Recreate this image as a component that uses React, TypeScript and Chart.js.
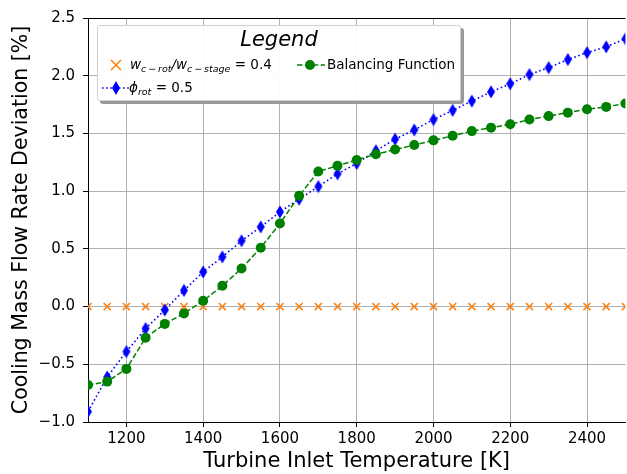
import React, { useEffect, useRef } from "react";
import { Chart, registerables } from "chart.js";

Chart.register(...registerables);

const temperatures = [1100, 1150, 1200, 1250, 1300, 1350, 1400, 1450, 1500, 1550, 1600, 1650, 1700, 1750, 1800, 1850, 1900, 1950, 2000, 2050, 2100, 2150, 2200, 2250, 2300, 2350, 2400, 2450, 2500];
const ratioSeries = [0, 0, 0, 0, 0, 0, 0, 0, 0, 0, 0, 0, 0, 0, 0, 0, 0, 0, 0, 0, 0, 0, 0, 0, 0, 0, 0, 0, 0];
const phiSeries = [-0.91, -0.61, -0.39, -0.19, -0.03, 0.14, 0.30, 0.43, 0.57, 0.69, 0.82, 0.93, 1.04, 1.15, 1.24, 1.35, 1.45, 1.53, 1.62, 1.70, 1.78, 1.86, 1.93, 2.01, 2.07, 2.14, 2.20, 2.25, 2.32];
const balancingSeries = [-0.68, -0.65, -0.54, -0.27, -0.15, -0.06, 0.05, 0.18, 0.33, 0.51, 0.72, 0.96, 1.17, 1.22, 1.27, 1.32, 1.36, 1.40, 1.44, 1.48, 1.52, 1.55, 1.58, 1.62, 1.65, 1.68, 1.71, 1.73, 1.76];
const xTicks = [1200, 1400, 1600, 1800, 2000, 2200, 2400];
const yTicks = [-1.0, -0.5, 0.0, 0.5, 1.0, 1.5, 2.0, 2.5];

const FONT = "'DejaVu Sans', sans-serif";

function makeDiamond(): HTMLCanvasElement {
  const c = document.createElement("canvas");
  c.width = 10;
  c.height = 14;
  const ctx = c.getContext("2d")!;
  ctx.fillStyle = "#0000ff";
  ctx.beginPath();
  ctx.moveTo(5, 0.5);
  ctx.lineTo(9, 7);
  ctx.lineTo(5, 13.5);
  ctx.lineTo(1, 7);
  ctx.closePath();
  ctx.fill();
  return c;
}

const topSpine = {
  id: "topSpine",
  afterDraw(chart: any) {
    const { ctx, chartArea } = chart;
    ctx.save();
    ctx.strokeStyle = "#000";
    ctx.lineWidth = 1;
    ctx.beginPath();
    ctx.moveTo(chartArea.left, chartArea.top + 0.5);
    ctx.lineTo(chartArea.right, chartArea.top + 0.5);
    ctx.stroke();
    ctx.restore();
  },
};

export default function App() {
  const ref = useRef<HTMLCanvasElement>(null);
  useEffect(() => {
    const diamond = makeDiamond();
    const chart = new Chart(ref.current!, {
      type: "line",
      data: {
        datasets: [
          {
            label: "ratio",
            data: temperatures.map((t, i) => ({ x: t, y: ratioSeries[i] })),
            showLine: false,
            pointStyle: "crossRot",
            pointRadius: 5,
            pointBorderWidth: 1.5,
            borderColor: "#ff7f0e",
            backgroundColor: "#ff7f0e",
            clip: 0,
            order: 3,
          },
          {
            label: "phi",
            data: temperatures.map((t, i) => ({ x: t, y: phiSeries[i] })),
            borderColor: "#0000ff",
            backgroundColor: "#0000ff",
            borderWidth: 1.6,
            borderDash: [1.6, 2.6],
            pointStyle: diamond as any,
            pointRadius: 5,
            clip: 0,
            order: 2,
          },
          {
            label: "Balancing Function",
            data: temperatures.map((t, i) => ({ x: t, y: balancingSeries[i] })),
            borderColor: "#008000",
            backgroundColor: "#008000",
            borderWidth: 1.5,
            borderDash: [5.5, 2.4],
            pointStyle: "circle",
            pointRadius: 5,
            pointBorderWidth: 0,
            clip: 0,
            order: 1,
          },
        ],
      },
      options: {
        responsive: false,
        animation: false,
        layout: { padding: { top: 18, right: 4, left: 0, bottom: 0 } },
        plugins: { legend: { display: false }, tooltip: { enabled: false } },
        scales: {
          x: {
            type: "linear",
            min: 1100,
            max: 2500,
            afterBuildTicks: (s: any) => {
              s.ticks = xTicks.map((v) => ({ value: v }));
            },
            afterFit: (s: any) => {
              s.height = 52;
            },
            grid: { color: "#b0b0b0", lineWidth: 1, tickColor: "#000", tickLength: 5 },
            border: { color: "#000", width: 1 },
            ticks: {
              color: "#000",
              font: { family: FONT, size: 15 },
              padding: 3,
              maxRotation: 0,
              callback: (v: any) => String(v),
            },
            title: { display: true, text: "Turbine Inlet Temperature [K]", color: "#000", font: { family: FONT, size: 21 }, padding: { top: 0, bottom: 0 } },
          },
          y: {
            type: "linear",
            min: -1.0,
            max: 2.5,
            afterBuildTicks: (s: any) => {
              s.ticks = yTicks.map((v) => ({ value: v }));
            },
            afterFit: (s: any) => {
              s.width = 88;
            },
            grid: { color: "#b0b0b0", lineWidth: 1, tickColor: "#000", tickLength: 5 },
            border: { color: "#000", width: 1 },
            ticks: {
              color: "#000",
              font: { family: FONT, size: 15 },
              padding: 8,
              callback: (v: any) => {
                const n = Number(v);
                const s = Math.abs(n).toFixed(1);
                return n < 0 ? "\u2212" + s : s;
              },
            },
            title: { display: true, text: "Cooling Mass Flow Rate Deviation [%]", color: "#000", font: { family: FONT, size: 20.5 }, padding: { top: 9, bottom: 0 } },
          },
        },
      },
      plugins: [topSpine],
    });
    return () => chart.destroy();
  }, []);

  const txt: React.CSSProperties = { fontFamily: FONT, fontSize: 13.5, color: "#000", whiteSpace: "nowrap" };
  const sub: React.CSSProperties = { fontSize: 9.5, fontStyle: "italic", verticalAlign: "-3px" };

  return (
    <div style={{ position: "fixed", left: 0, top: 0, width: 627, height: 474, overflow: "hidden", background: "#fff" }}>
      <canvas ref={ref} width={632} height={474} style={{ width: 632, height: 474, display: "block" }} />
      <div
        style={{
          position: "absolute",
          left: 97,
          top: 25,
          width: 362,
          height: 74,
          background: "rgba(255,255,255,0.95)",
          border: "1px solid #d0d0d0",
          borderRadius: 3,
          boxShadow: "3px 3px 0 #999",
        }}
      >
        <div style={{ position: "absolute", left: 0, right: 0, top: 1, textAlign: "center", fontFamily: FONT, fontStyle: "italic", fontSize: 21 }}>Legend</div>
        <svg style={{ position: "absolute", left: 10, top: 32 }} width={16} height={14}>
          <path d="M3,2 L13,12 M13,2 L3,12" stroke="#ff7f0e" strokeWidth={1.5} />
        </svg>
        <div style={{ ...txt, position: "absolute", left: 32, top: 30 }}>
          <i>w</i>
          <span style={sub}>c{"\u2009−\u2009"}rot</span>
          <i>/w</i>
          <span style={sub}>c{"\u2009−\u2009"}stage</span> = 0.4
        </div>
        <svg style={{ position: "absolute", left: 199, top: 32 }} width={28} height={14}>
          <line x1={0} y1={7} x2={28} y2={7} stroke="#008000" strokeWidth={1.5} strokeDasharray="5.5 2.4" />
          <circle cx={13} cy={7} r={5} fill="#008000" />
        </svg>
        <div style={{ ...txt, position: "absolute", left: 229, top: 30 }}>Balancing Function</div>
        <svg style={{ position: "absolute", left: 4, top: 54 }} width={28} height={16}>
          <line x1={0} y1={8} x2={28} y2={8} stroke="#0000ff" strokeWidth={1.6} strokeDasharray="1.6 2.6" />
          <path d="M14,1 L18,8 L14,15 L10,8 Z" fill="#0000ff" />
        </svg>
        <div style={{ ...txt, position: "absolute", left: 31, top: 53 }}>
          <i>ϕ</i>
          <span style={sub}>rot</span> = 0.5
        </div>
      </div>
    </div>
  );
}
